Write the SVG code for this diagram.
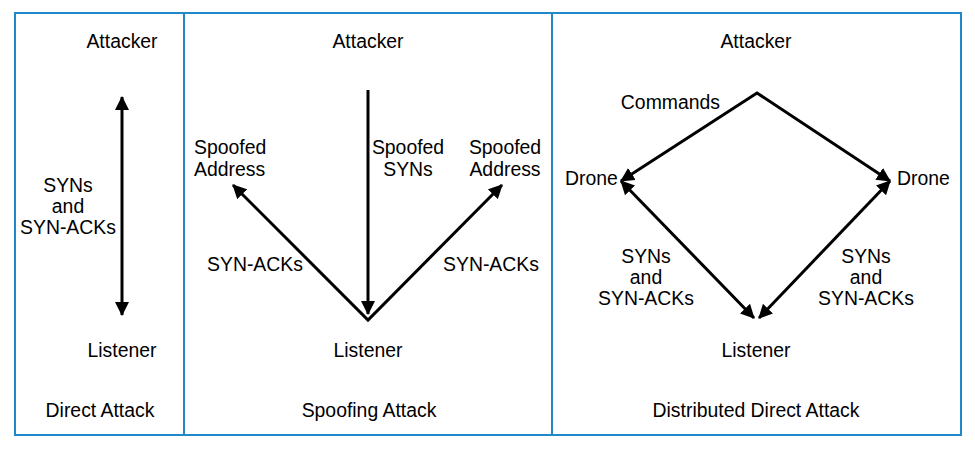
<svg xmlns="http://www.w3.org/2000/svg" width="975" height="450" viewBox="0 0 975 450">
<style>
text{font-family:"Liberation Sans",Arial,sans-serif;font-size:19.4px;fill:#000}
.c{text-anchor:middle}
.e{text-anchor:end}
.b{fill:none;stroke:#1e88c8;stroke-width:2}
.a{fill:none;stroke:#000;stroke-width:3}
</style>
<defs>
<marker id="ah" viewBox="0 0 14 14" refX="13" refY="7" markerWidth="14" markerHeight="14" markerUnits="userSpaceOnUse" orient="auto-start-reverse">
<path d="M0,0 L14,7 L0,14 Z" fill="#000"/>
</marker>
</defs>
<rect x="0" y="0" width="975" height="450" fill="#fff"/>
<g id="frame">
<rect class="b" x="15" y="13" width="946" height="422"/>
<line class="b" x1="184" y1="13" x2="184" y2="435"/>
<line class="b" x1="552" y1="13" x2="552" y2="435"/>
</g>
<g id="connectors">
<line class="a" x1="122" y1="97" x2="122" y2="315" marker-start="url(#ah)" marker-end="url(#ah)"/>
<line class="a" x1="368" y1="90" x2="368" y2="314" marker-end="url(#ah)"/>
<polyline class="a" points="233,185 368,320 502,185" marker-start="url(#ah)" marker-end="url(#ah)"/>
<polyline class="a" points="621,181 757,93 890,181" marker-start="url(#ah)" marker-end="url(#ah)"/>
<line class="a" x1="621" y1="181" x2="754" y2="318" marker-start="url(#ah)" marker-end="url(#ah)"/>
<line class="a" x1="890" y1="181" x2="759" y2="318" marker-start="url(#ah)" marker-end="url(#ah)"/>
</g>
<g id="direct-attack">
<text class="c" x="122" y="48">Attacker</text>
<text class="c" x="68" y="192">SYNs</text>
<text class="c" x="68" y="213">and</text>
<text class="c" x="68" y="234">SYN-ACKs</text>
<text class="c" x="122" y="357">Listener</text>
<text class="c" x="100" y="417">Direct Attack</text>
</g>
<g id="spoofing-attack">
<text class="c" x="368" y="48">Attacker</text>
<text x="194" y="154">Spoofed</text>
<text x="194" y="176">Address</text>
<text class="c" x="408" y="154">Spoofed</text>
<text class="c" x="408" y="176">SYNs</text>
<text class="c" x="505" y="154">Spoofed</text>
<text class="c" x="505" y="176">Address</text>
<text class="c" x="255" y="271">SYN-ACKs</text>
<text class="c" x="491" y="271">SYN-ACKs</text>
<text class="c" x="368" y="357">Listener</text>
<text class="c" x="369" y="417">Spoofing Attack</text>
</g>
<g id="distributed-attack">
<text class="c" x="756" y="48">Attacker</text>
<text class="e" x="720" y="109">Commands</text>
<text x="565" y="185">Drone</text>
<text x="897" y="185">Drone</text>
<text class="c" x="646" y="263">SYNs</text>
<text class="c" x="646" y="284">and</text>
<text class="c" x="646" y="305">SYN-ACKs</text>
<text class="c" x="866" y="263">SYNs</text>
<text class="c" x="866" y="284">and</text>
<text class="c" x="866" y="305">SYN-ACKs</text>
<text class="c" x="756" y="357">Listener</text>
<text class="c" x="756" y="417">Distributed Direct Attack</text>
</g>
</svg>
